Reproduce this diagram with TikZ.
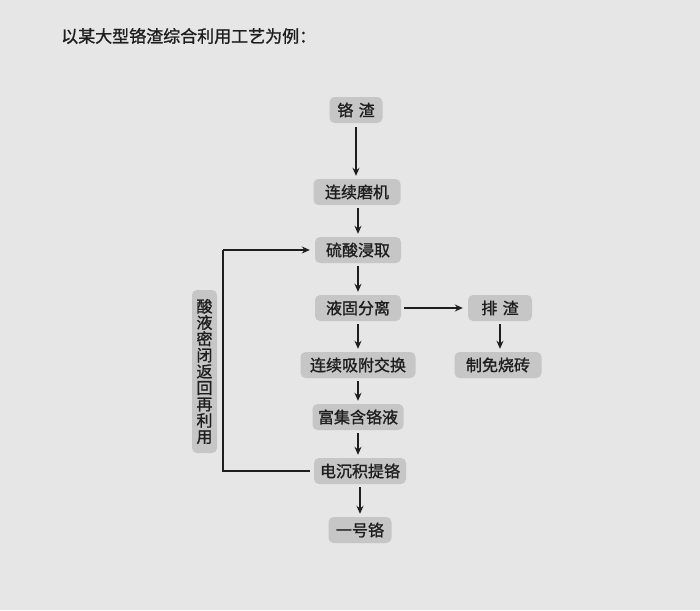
\documentclass[tikz,border=0pt]{standalone}
\usepackage{fontspec}
\setmainfont{Noto Sans CJK SC}[FakeBold=1.2]
\usetikzlibrary{arrows.meta}
\definecolor{bg}{HTML}{E6E6E6}
\definecolor{boxc}{HTML}{C6C6C6}
\definecolor{ink}{HTML}{1E1E1E}
\tikzset{
  stepbox/.style={fill=boxc, rounded corners=5pt, inner sep=0pt, text=ink, font=\fontsize{16}{16}\selectfont, minimum height=26pt, anchor=center},
  flow/.style={draw=ink, line width=1.7pt, -{Stealth[length=8pt,width=7pt]}},
  plain/.style={draw=ink, line width=1.7pt}
}
\begin{document}
\begin{tikzpicture}[x=1pt,y=-1pt]
\fill[bg] (0,0) rectangle (700,610);
\useasboundingbox (0,0) rectangle (700,610);
\node[anchor=west, text=ink, font=\fontsize{17}{17}\selectfont, inner sep=0pt] (title) at (61,36) {以某大型铬渣综合利用工艺为例：};

\node[stepbox, minimum width=53pt] (a) at (356,110) {铬\,\,渣};
\node[stepbox, minimum width=87pt] (b) at (357,192) {连续磨机};
\node[stepbox, minimum width=86pt] (c) at (358,250) {硫酸浸取};
\node[stepbox, minimum width=86pt] (d) at (358,308) {液固分离};
\node[stepbox, minimum width=64pt] (e) at (500,308) {排\,\,渣};
\node[stepbox, minimum width=115pt] (f) at (358,365) {连续吸附交换};
\node[stepbox, minimum width=87pt] (g) at (498,365) {制免烧砖};
\node[stepbox, minimum width=91pt] (h) at (358,417) {富集含铬液};
\node[stepbox, minimum width=92pt] (i) at (360,471) {电沉积提铬};
\node[stepbox, minimum width=63pt] (j) at (360,530) {一号铬};
\node[fill=boxc, rounded corners=5pt, inner sep=0pt, minimum width=25pt, minimum height=163pt, text=ink, font=\fontsize{16}{16.3}\selectfont, align=center] (v) at (204.5,371.5) {酸\\液\\密\\闭\\返\\回\\再\\利\\用};

\draw[flow, shorten <=4pt, shorten >=3pt] (a) -- (a |- b.north);
\draw[flow, shorten <=3pt, shorten >=3pt] (b.south -| c) -- (c);
\draw[flow, shorten <=3pt, shorten >=3pt] (c) -- (d);
\draw[flow, shorten <=3pt, shorten >=3pt] (d) -- (d |- f.north);
\draw[flow, shorten <=3pt, shorten >=3pt] (f) -- (f |- h.north);
\draw[flow, shorten <=3pt, shorten >=3pt] (h) -- (h |- i.north);
\draw[flow, shorten <=3pt, shorten >=3pt] (i) -- (j);
\draw[flow, shorten <=3pt, shorten >=5pt] (d) -- (e);
\draw[flow, shorten <=3pt, shorten >=3pt] (e) -- (e |- g.north);
\coordinate (fbb) at (223,471);
\coordinate (fbt) at (223,250);
\draw[plain, shorten <=4pt] (i.west) -- (fbb) -- (fbt);
\draw[flow, shorten >=5pt] (fbt) -- (c.west);
\end{tikzpicture}
\end{document}
